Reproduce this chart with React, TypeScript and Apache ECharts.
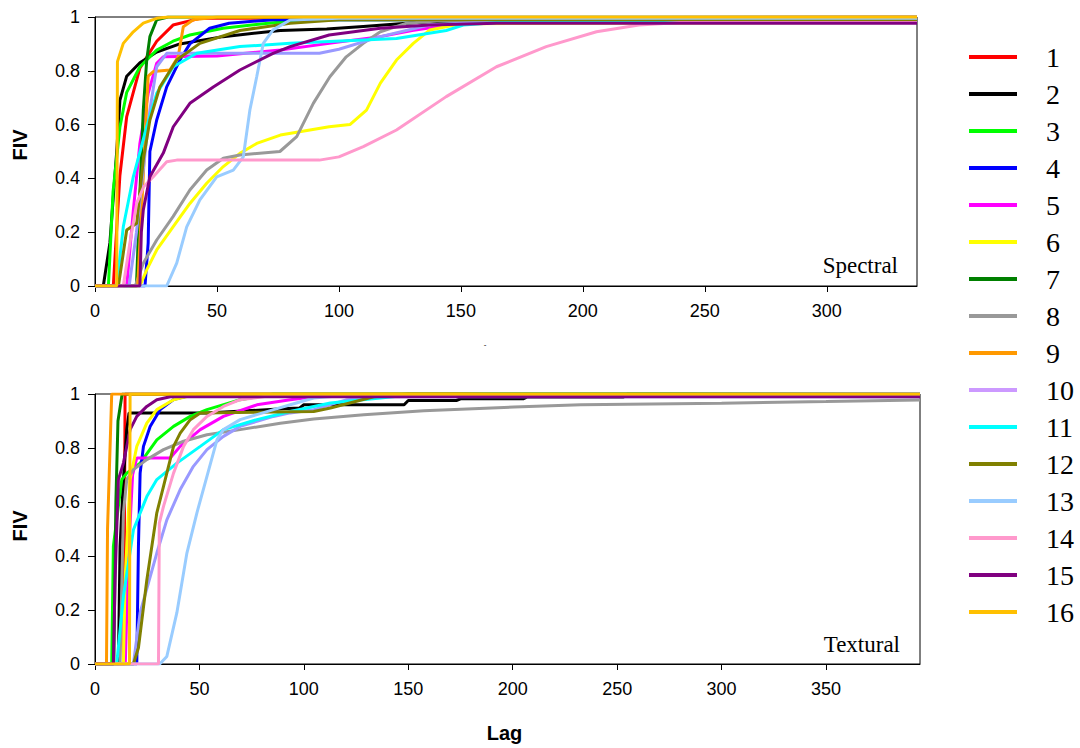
import React, { useEffect, useRef } from "react";
import * as echarts from "echarts";

const seriesNames = ["1","2","3","4","5","6","7","8","9","10","11","12","13","14","15","16"];
const seriesColors = ["#FF0000","#000000","#00FF00","#0000FF","#FF00FF","#FFFF00","#008000","#999999","#FF9900","#9999FF","#00FFFF","#808000","#99CCFF","#FF99CC","#800080","#FFC000"];
const legendColors = ["#FF0000","#000000","#00FF00","#0000FF","#FF00FF","#FFFF00","#008000","#999999","#FF9900","#CC99FF","#00FFFF","#808000","#99CCFF","#FF99CC","#800080","#FFC000"];

const xTicksTop = [0, 50, 100, 150, 200, 250, 300];
const xTicksBottom = [0, 50, 100, 150, 200, 250, 300, 350];

// Spectral (top panel)
const spec1 = [[0,0],[7.5,0],[10.2,0.41],[13,0.63],[18.4,0.81],[25.3,0.91],[32,0.97],[43,0.995],[337,1]];
const spec2 = [[0,0],[3.4,0],[6.1,0.16],[8.9,0.5],[10.2,0.69],[13,0.78],[18.4,0.83],[25.3,0.87],[34.8,0.9],[52.5,0.927],[76,0.95],[95,0.955],[110,0.965],[125,0.975],[137,0.982],[337,0.985]];
const spec3 = [[0,0],[5.5,0],[7.4,0.35],[10.2,0.59],[13,0.72],[18.4,0.815],[25.3,0.877],[32,0.91],[38.9,0.933],[52.5,0.958],[73,0.979],[90,0.99],[337,0.99]];
const spec4 = [[0,0],[20.5,0],[21.8,0.16],[22.5,0.5],[25.3,0.617],[29.4,0.74],[34.8,0.84],[38.9,0.9],[47,0.958],[55,0.977],[73,0.99],[337,0.99]];
const spec5 = [[0,0],[13,0],[15.7,0.28],[18.4,0.53],[21.8,0.716],[25.3,0.828],[28,0.852],[50,0.855],[76,0.877],[96,0.902],[117,0.927],[130,0.95],[145,0.97],[160,0.98],[337,0.98]];
const spec6 = [[0,0],[18.4,0],[21.2,0.06],[25.3,0.134],[32,0.22],[38.9,0.307],[45.8,0.382],[52.6,0.444],[59.4,0.493],[66.3,0.53],[76,0.561],[96,0.592],[104.5,0.6],[111.3,0.654],[117,0.754],[123.6,0.84],[130.5,0.902],[137.3,0.952],[150,0.975],[337,0.98]];
const spec7 = [[0,0],[17,0],[18.4,0.345],[19.8,0.654],[21.2,0.84],[22.5,0.927],[25.3,0.99],[30,1],[337,1]];
const spec8 = [[0,0],[16.5,0],[19.8,0.085],[25.3,0.171],[32,0.258],[38.9,0.357],[45.8,0.431],[52.6,0.475],[59.4,0.487],[75.8,0.5],[82.7,0.555],[89.5,0.679],[96.3,0.778],[103,0.852],[110,0.902],[117,0.945],[127.8,0.977],[140,0.985],[337,0.985]];
const spec9 = [[0,0],[17.5,0],[19.8,0.41],[21.8,0.78],[23.9,0.797],[30.7,0.803],[34.1,0.852],[36.2,0.964],[40.3,0.99],[50,1],[337,1]];
const spec10 = [[0,0],[14,0],[17,0.2],[20,0.45],[22.5,0.654],[25.3,0.815],[29.4,0.865],[60,0.865],[92,0.865],[100,0.88],[117,0.927],[137,0.97],[155,0.98],[337,0.98]];
const spec11 = [[0,0],[8.9,0],[11.6,0.22],[15.7,0.406],[21.2,0.592],[25.3,0.716],[32.1,0.815],[41.7,0.865],[59.4,0.89],[80,0.902],[123.6,0.92],[144,0.95],[151,0.97],[165,0.98],[337,0.98]];
const spec12 = [[0,0],[9.6,0],[13,0.208],[17.1,0.233],[19.8,0.468],[22.5,0.617],[26.6,0.74],[33.5,0.84],[43,0.902],[59.4,0.95],[80,0.977],[100,0.99],[337,0.99]];
const spec13 = [[0,0],[29.4,0],[33.5,0.085],[37.6,0.22],[43,0.32],[49.9,0.406],[56.7,0.431],[60.8,0.48],[63.5,0.654],[66.3,0.778],[69,0.902],[73,0.952],[80,0.989],[100,0.995],[337,0.995]];
const spec14 = [[0,0],[11.6,0],[14.3,0.16],[17.1,0.308],[20,0.37],[23.9,0.406],[29.4,0.462],[33.5,0.468],[92,0.468],[100,0.48],[110,0.518],[123.6,0.58],[144,0.704],[164.6,0.815],[185,0.89],[205.6,0.945],[223,0.97],[240,0.98],[337,0.98]];
const spec15 = [[0,0],[18.4,0],[19,0.2],[19.8,0.283],[22.5,0.406],[28,0.494],[32.1,0.592],[38.9,0.679],[48.5,0.74],[59.4,0.803],[73,0.865],[80,0.89],[96,0.933],[117,0.958],[137,0.97],[164.6,0.977],[337,0.977]];
const spec16 = [[0,0],[8.9,0],[9.2,0.834],[11.6,0.902],[15.7,0.945],[19.8,0.977],[25.3,0.995],[30,1],[337,1]];

// Textural (bottom panel)
const text1 = [[0,0],[13.8,0],[14.4,1],[395,1]];
const text2 = [[0,0],[11.2,0],[12,0.436],[13.6,0.683],[15.2,0.868],[16.3,0.93],[53.6,0.93],[90,0.945],[98,0.948],[100,0.96],[148,0.96],[150,0.976],[173,0.976],[175,0.982],[205,0.982],[207,0.989],[253,0.989],[255,1],[395,1]];
const text3 = [[0,0],[8,0],[8.8,0.436],[12.8,0.683],[15.2,0.707],[21.6,0.744],[29.6,0.83],[37.6,0.88],[45.6,0.917],[53.6,0.942],[69.5,0.979],[85.5,1],[395,1]];
const text4 = [[0,0],[20,0],[20.8,0.436],[21.6,0.707],[23.2,0.806],[26.4,0.88],[31.2,0.942],[37.6,0.979],[45.6,0.995],[395,1]];
const text5 = [[0,0],[14.5,0],[16,0.4],[18,0.7],[20,0.763],[36,0.763],[40.8,0.806],[50.4,0.868],[61.5,0.917],[77.5,0.96],[93.5,0.979],[110,0.995],[395,1]];
const text6 = [[0,0],[13.6,0],[14.4,0.31],[16.8,0.683],[20,0.806],[24.8,0.892],[29.6,0.942],[37.6,0.979],[48.8,1],[395,1]];
const text7 = [[0,0],[9,0],[10,0.6],[11,0.9],[13,1],[395,1]];
const text8 = [[0,0],[12,0],[13.6,0.56],[15.2,0.683],[18.4,0.72],[24.8,0.757],[32.8,0.794],[42.4,0.825],[53.6,0.849],[69.5,0.868],[88.7,0.892],[104.7,0.907],[128.7,0.923],[157.4,0.938],[200.6,0.952],[232.6,0.96],[300,0.966],[350,0.972],[395,0.978]];
const text9 = [[0,0],[5.5,0],[6,0.5],[8,1],[395,1]];
const text10 = [[0,0],[18.4,0],[21.6,0.19],[29.6,0.411],[34.4,0.534],[40.8,0.646],[47.1,0.732],[53.6,0.794],[61.5,0.843],[69.5,0.88],[85.5,0.917],[93.5,0.93],[104.7,0.942],[120.7,0.979],[140,0.99],[395,0.99]];
const text11 = [[0,0],[10.4,0],[13.6,0.25],[18.4,0.497],[24.8,0.62],[29.6,0.683],[39.2,0.744],[50.4,0.806],[61.5,0.868],[77.5,0.905],[93.5,0.935],[112.7,0.967],[136.7,0.985],[149.5,0.995],[190,1],[395,1]];
const text12 = [[0,0],[18.4,0],[20.8,0.06],[24.8,0.31],[29.6,0.56],[32.8,0.658],[37.6,0.806],[40.8,0.855],[45.6,0.905],[50.4,0.93],[104.7,0.935],[112.7,0.948],[133.5,0.99],[150,1],[395,1]];
const text13 = [[0,0],[31,0],[34.4,0.028],[39.2,0.19],[44,0.411],[48.8,0.56],[53.6,0.695],[58.4,0.83],[61.5,0.868],[69.5,0.905],[85.5,0.942],[93.5,0.96],[104.7,0.985],[120.7,0.995],[395,1]];
const text14 = [[0,0],[30.4,0],[30.8,0.522],[32.8,0.584],[37.6,0.707],[42.4,0.806],[47.1,0.868],[53.6,0.917],[61.5,0.954],[69.5,0.979],[85.5,0.995],[395,1]];
const text15 = [[0,0],[8.8,0],[9.6,0.31],[11.2,0.683],[13.6,0.744],[16.8,0.868],[20,0.917],[24.8,0.954],[29.6,0.979],[36,0.99],[55,0.99],[395,0.99]];
const text16 = [[0,0],[16.5,0],[16.8,1],[395,1]];

const spectralData = [spec1,spec2,spec3,spec4,spec5,spec6,spec7,spec8,spec9,spec10,spec11,spec12,spec13,spec14,spec15,spec16];
const texturalData = [text1,text2,text3,text4,text5,text6,text7,text8,text9,text10,text11,text12,text13,text14,text15,text16];

const FONT = "'Liberation Sans', Arial, sans-serif";
const SERIF = "'Liberation Serif', 'Times New Roman', serif";

function makeXAxis(gridIndex: number, max: number, ticks: number[]) {
  return {
    type: "value",
    gridIndex,
    min: 0,
    max,
    interval: 50,
    axisLine: { show: true, onZero: false, lineStyle: { color: "#000", width: 1 } },
    axisTick: { show: true, length: 6, customValues: ticks, lineStyle: { color: "#000" } },
    axisLabel: { customValues: ticks, color: "#000", fontSize: 18, fontFamily: FONT, margin: 16 },
    splitLine: { show: false },
  };
}

function makeYAxis(gridIndex: number) {
  return {
    type: "value",
    gridIndex,
    min: 0,
    max: 1,
    interval: 0.2,
    axisLine: { show: true, lineStyle: { color: "#000", width: 1 } },
    axisTick: { show: true, length: 7, lineStyle: { color: "#000" } },
    axisLabel: { color: "#000", fontSize: 18, fontFamily: FONT, margin: 15 },
    splitLine: { show: false },
  };
}

export default function App() {
  const ref = useRef<HTMLDivElement>(null);
  useEffect(() => {
    if (!ref.current) return;
    const chart = echarts.init(ref.current, null, { renderer: "svg" });
    const series: any[] = [];
    seriesNames.forEach((name, i) => {
      series.push({
        name,
        type: "line",
        xAxisIndex: 0,
        yAxisIndex: 0,
        data: spectralData[i],
        showSymbol: false,
        symbol: "none",
        lineStyle: { color: seriesColors[i], width: 3 },
        itemStyle: { color: seriesColors[i] },
      });
    });
    seriesNames.forEach((name, i) => {
      series.push({
        name,
        type: "line",
        xAxisIndex: 1,
        yAxisIndex: 1,
        data: texturalData[i],
        showSymbol: false,
        symbol: "none",
        lineStyle: { color: seriesColors[i], width: 3 },
        itemStyle: { color: seriesColors[i] },
      });
    });
    chart.setOption({
      animation: false,
      backgroundColor: "#fff",
      grid: [
        { left: 95, top: 17, width: 822, height: 269, show: true, borderColor: "#000", borderWidth: 1, backgroundColor: "transparent" },
        { left: 95, top: 394, width: 825, height: 270, show: true, borderColor: "#000", borderWidth: 1, backgroundColor: "transparent" },
      ],
      xAxis: [makeXAxis(0, 337, xTicksTop), makeXAxis(1, 395, xTicksBottom)],
      yAxis: [makeYAxis(0), makeYAxis(1)],
      legend: {
        orient: "vertical",
        left: 969,
        top: 42,
        padding: 0,
        itemWidth: 48,
        itemHeight: 4,
        itemGap: 7,
        icon: "rect",
        selectedMode: false,
        data: seriesNames.map((n, i) => ({ name: n, itemStyle: { color: legendColors[i] } })),
        textStyle: { color: "#000", fontSize: 28, fontFamily: SERIF, lineHeight: 30, padding: [0, 0, 0, 24] },
      },
      graphic: [
        { type: "text", x: 898, y: 265, style: { text: "Spectral", fontSize: 23, fontFamily: SERIF, fill: "#000", align: "right", verticalAlign: "middle" } },
        { type: "text", x: 900, y: 644, style: { text: "Textural", fontSize: 23, fontFamily: SERIF, fill: "#000", align: "right", verticalAlign: "middle" } },
        { type: "text", x: 19.5, y: 145, rotation: Math.PI / 2, style: { text: "FIV", fontSize: 20, fontWeight: "bold", fontFamily: FONT, fill: "#000", align: "center", verticalAlign: "middle" } },
        { type: "text", x: 19.5, y: 526, rotation: Math.PI / 2, style: { text: "FIV", fontSize: 20, fontWeight: "bold", fontFamily: FONT, fill: "#000", align: "center", verticalAlign: "middle" } },
        { type: "text", x: 504.5, y: 733, style: { text: "Lag", fontSize: 20, fontWeight: "bold", fontFamily: FONT, fill: "#000", align: "center", verticalAlign: "middle" } },
        { type: "text", x: 485, y: 344, style: { text: "-", fontSize: 8, fontFamily: FONT, fill: "#000", align: "center", verticalAlign: "middle" } },
      ],
      series,
    });
    return () => chart.dispose();
  }, []);
  return <div ref={ref} style={{ position: "absolute", left: 0, top: 0, width: 1080, height: 748 }} />;
}
